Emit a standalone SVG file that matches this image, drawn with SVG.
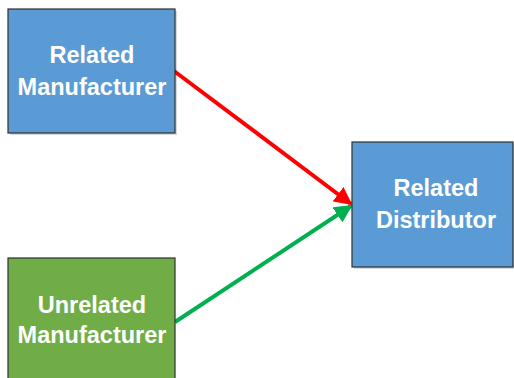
<svg xmlns="http://www.w3.org/2000/svg" width="514" height="378" viewBox="0 0 514 378">
<style>
.box{stroke:#2f2f2f;stroke-width:1.2}
.blue{fill:#5B9BD5}
.green{fill:#70AD47}
.lbl{font-family:"Liberation Sans",Arial,sans-serif;font-weight:bold;font-size:23.5px;fill:#fff;text-anchor:middle}
.shadow{fill:#000;opacity:0.15}
</style>
<defs>
<marker id="ar" viewBox="0 0 10 10" refX="9" refY="5" markerWidth="4.5" markerHeight="4.5" orient="auto" markerUnits="strokeWidth"><path d="M0,0 L10,5 L0,10 z" fill="#FF0000"/></marker>
<marker id="ag" viewBox="0 0 10 10" refX="9" refY="5" markerWidth="4.5" markerHeight="4.5" orient="auto" markerUnits="strokeWidth"><path d="M0,0 L10,5 L0,10 z" fill="#00B050"/></marker>
</defs>
<rect width="514" height="378" fill="#fff"/>
<g id="connectors">
<line x1="174" y1="71" x2="351" y2="204" stroke="#FF0000" stroke-width="4" marker-end="url(#ar)"/>
<line x1="175" y1="322" x2="351" y2="206" stroke="#00B050" stroke-width="4" marker-end="url(#ag)"/>
</g>
<g id="related-manufacturer">
<rect class="shadow" x="10" y="11" width="167" height="124"/>
<rect class="box blue" x="8" y="9" width="167" height="124"/>
<text class="lbl" x="92" y="63">Related</text>
<text class="lbl" x="92" y="95">Manufacturer</text>
</g>
<g id="related-distributor">
<rect class="shadow" x="354" y="144" width="162" height="125"/>
<rect class="box blue" x="352" y="142" width="161" height="125"/>
<text class="lbl" x="436" y="196">Related</text>
<text class="lbl" x="436" y="228">Distributor</text>
</g>
<g id="unrelated-manufacturer">
<rect class="box green" x="8" y="258" width="167" height="130"/>
<text class="lbl" x="92" y="313">Unrelated</text>
<text class="lbl" x="92" y="343">Manufacturer</text>
</g>
</svg>
